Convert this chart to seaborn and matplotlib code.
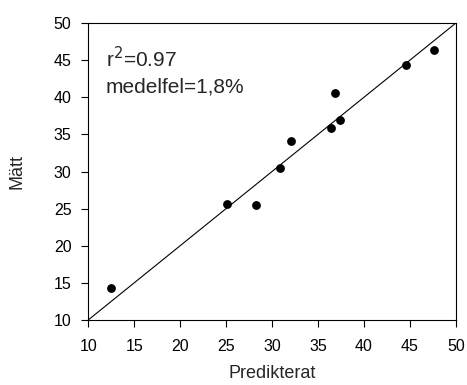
import matplotlib
matplotlib.use("Agg")
import matplotlib.pyplot as plt
import seaborn as sns
import pandas as pd

# Predicted vs measured values
predikterat = [12.5, 25.1, 28.3, 30.9, 32.1, 36.4, 36.8, 37.4, 44.6, 47.6]
matt = [14.35, 25.6, 25.5, 30.5, 34.1, 35.9, 40.55, 36.95, 44.4, 46.4]
axis_ticks = [10, 15, 20, 25, 30, 35, 40, 45, 50]

sns.set_style("white")
plt.rcParams["font.family"] = ["Liberation Sans", "DejaVu Sans"]

df = pd.DataFrame({"Predikterat": predikterat, "Mätt": matt})

fig = plt.figure(figsize=(4.67, 3.85), dpi=100)
ax = fig.add_axes([0.189, 0.169, 0.787, 0.771])

# 1:1 reference line
ax.plot([10, 50], [10, 50], color="black", lw=0.8, zorder=1)

sns.scatterplot(data=df, x="Predikterat", y="Mätt", ax=ax, color="black",
                s=40, marker="o", edgecolor="black", linewidth=0, zorder=2)

ax.set_xlim(10, 50)
ax.set_ylim(10, 50)
ax.set_xticks(axis_ticks)
ax.set_yticks(axis_ticks)
ax.tick_params(axis="both", direction="out", length=5, width=0.8,
               labelsize=11.5, colors="black", left=True, bottom=True)
ax.tick_params(axis="x", pad=9)
ax.tick_params(axis="y", pad=7)
for sp in ax.spines.values():
    sp.set_color("black")
    sp.set_linewidth(0.8)

ax.set_xlabel("Predikterat", fontsize=13, labelpad=8)
ax.set_ylabel("Mätt", fontsize=13, labelpad=20)

ax.text(0.048, 0.85, r"r$^{2}$=0.97", transform=ax.transAxes, fontsize=15,
        va="baseline", ha="left")
ax.text(0.048, 0.765, "medelfel=1,8%", transform=ax.transAxes, fontsize=15,
        va="baseline", ha="left")

fig.savefig("out.png", dpi=100)
